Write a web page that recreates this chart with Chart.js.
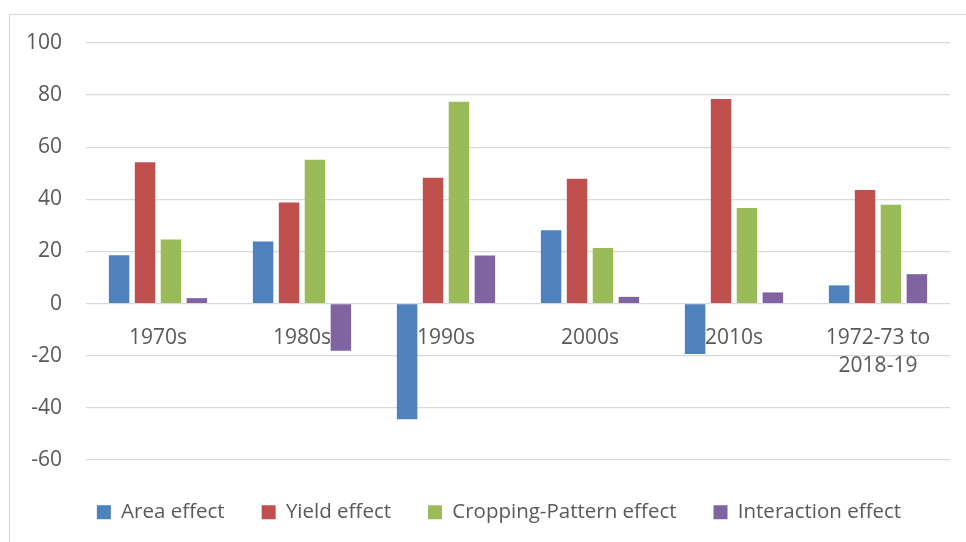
<!DOCTYPE html>
<html>
<head>
<meta charset="utf-8">
<script src="https://cdn.jsdelivr.net/npm/chart.js@4"></script>
<style>
  html, body { margin: 0; padding: 0; background: #fff; }
  #wrap { position: relative; width: 966px; height: 542px; }
  #frame { position: absolute; left: 9px; top: 14px; right: -2px; bottom: -2px;
           border-left: 1px solid #d9d9d9; border-top: 1px solid #d9d9d9; pointer-events: none; }
</style>
</head>
<body>
<div id="wrap">
  <canvas id="effectsChart" width="966" height="542"></canvas>
  <div id="frame"></div>
</div>
<script>
const categories = ['1970s', '1980s', '1990s', '2000s', '2010s', ['1972-73 to', '2018-19']];
const areaEffect = [18.6, 23.8, -44.4, 28.2, -19.3, 7.0];
const yieldEffect = [54.2, 38.8, 48.3, 47.9, 78.5, 43.6];
const croppingEffect = [24.6, 55.2, 77.5, 21.3, 36.7, 37.9];
const interactionEffect = [2.1, -18.1, 18.5, 2.6, 4.3, 11.3];

const textColor = '#595959';
const gridColor = '#d9d9d9';
const fontFamily = 'Open Sans';

// legend sits a fixed distance under the plot, like in the excel chart
const legendPlacement = {
    id: 'legendPlacement',
    beforeInit(chart) {
        const fit = chart.legend.fit;
        chart.legend.fit = function () {
            fit.call(this);
            this.height = 82;
        };
    },
    afterLayout(chart) {
        chart.legend.left = 48;
    }
};

function bar(label, data, color) {
    return {
        label: label,
        data: data,
        backgroundColor: color,
        borderWidth: 0,
        categoryPercentage: 0.72,
        barPercentage: 0.79
    };
}

const chart = document.getElementById('effectsChart');
new Chart(chart, {
    type: 'bar',
    data: {
        labels: categories,
        datasets: [
            bar('Area effect', areaEffect, '#4f81bd'),
            bar('Yield effect', yieldEffect, '#c0504d'),
            bar('Cropping-Pattern effect', croppingEffect, '#9bbb59'),
            bar('Interaction effect', interactionEffect, '#8064a2')
        ]
    },
    options: {
        responsive: false,
        animation: false,
        layout: {
            padding: { top: 43, right: 16, bottom: 0, left: 0 }
        },
        scales: {
            x: {
                position: { y: 0 },
                grid: { display: false, drawTicks: false },
                border: { display: false },
                ticks: {
                    color: textColor,
                    padding: 20,
                    maxRotation: 0,
                    autoSkip: false,
                    font: { family: fontFamily, size: 21, lineHeight: 1.33 }
                }
            },
            y: {
                min: -60,
                max: 100,
                afterFit(scale) { scale.width = 86; },
                grid: { color: gridColor, lineWidth: 1.3, drawTicks: false },
                border: { display: false },
                ticks: {
                    stepSize: 20,
                    color: textColor,
                    padding: 24,
                    font: { family: fontFamily, size: 21 }
                }
            }
        },
        plugins: {
            tooltip: { enabled: false },
            legend: {
                position: 'bottom',
                title: { display: true, text: '', padding: 0, font: { size: 5, lineHeight: 1 } },
                labels: {
                    color: textColor,
                    boxWidth: 14,
                    boxHeight: 14,
                    padding: 37,
                    font: { family: fontFamily, size: 20.5 }
                }
            }
        }
    },
    plugins: [legendPlacement]
});
</script>
</body>
</html>
